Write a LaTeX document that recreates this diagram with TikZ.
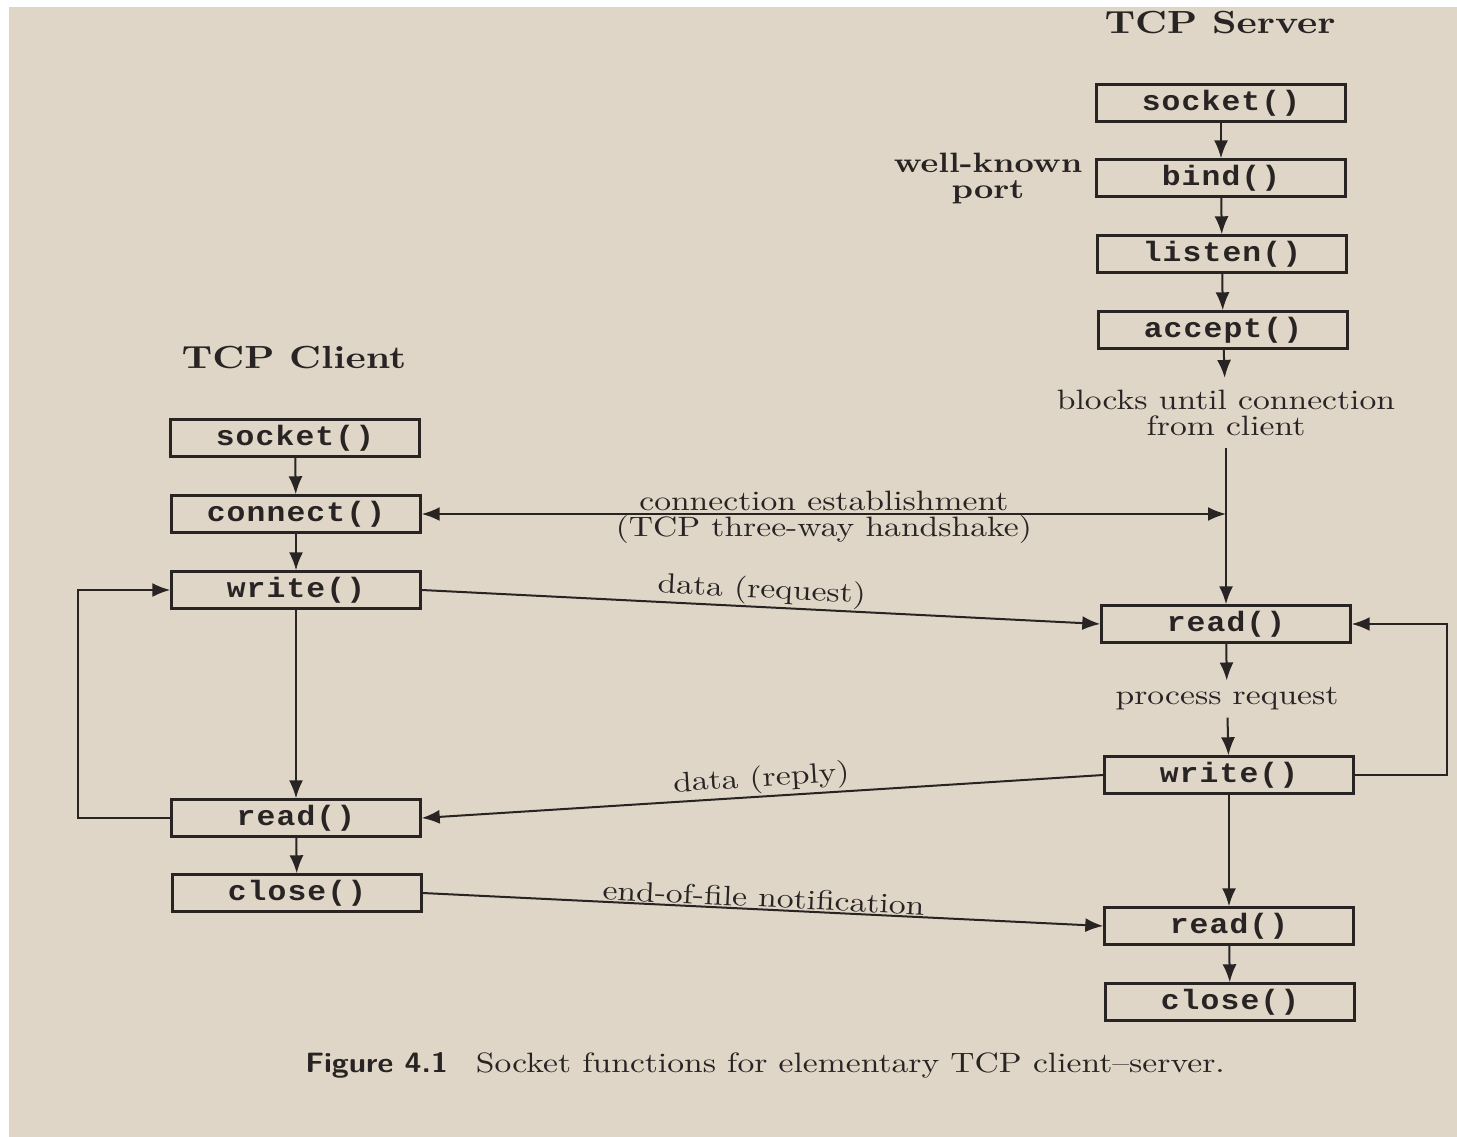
\documentclass[tikz,border=0pt]{standalone}
\usepackage{fontspec}
\usetikzlibrary{arrows.meta}
\newfontfamily\lblfont[Ligatures=TeX,FakeStretch=1.2,BoldFont=lmroman10-bold.otf]{lmroman10-regular.otf}
\newfontfamily\capfont[FakeStretch=1.1]{lmsans10-bold.otf}
\newfontfamily\callfont[FakeStretch=1.12,LetterSpace=4]{Liberation Mono}
\definecolor{paper}{RGB}{224,214,199}
\definecolor{ink}{RGB}{40,36,36}

\begin{document}
\begin{tikzpicture}[x=1pt,y=-1pt,>={Latex[length=18pt,width=14pt]},
	fn/.style={draw=ink,text=ink,line width=2.4pt,minimum width=249pt,minimum height=37pt,inner sep=0pt,
		font={\callfont\bfseries\fontsize{28}{30}\selectfont}},
	lbl/.style={text=ink,align=center,font={\lblfont\fontsize{28}{26}\selectfont}},
	ttl/.style={text=ink,font={\lblfont\bfseries\fontsize{32}{34}\selectfont}},
	flow/.style={draw=ink,line width=2pt}]

	\useasboundingbox (0,0) rectangle (1457,1137);
	\fill[white] (0,0) rectangle (1457,1137);
	\fill[paper] (9,7) rectangle (1457,1137);

	% server side
	\node[ttl] (stitle) at (1220,23) {TCP Server};
	\node[fn] (ssocket) at (1221,103) {socket()};
	\node[fn] (sbind) at (1221,178) {bind()};
	\node[fn] (slisten) at (1222,254) {listen()};
	\node[fn] (saccept) at (1223,330) {accept()};
	\node[lbl,font={\lblfont\bfseries\fontsize{28}{26}\selectfont}] (sport) at (988,178) {well-known\\port};
	\node[lbl,inner sep=12pt] (sblocks) at (1226,413) {blocks until connection\\from client};
	\node[fn] (sread) at (1226,624) {read()};
	\node[lbl,inner sep=7pt] (sprocess) at (1227,699) {process request};
	\node[fn] (swrite) at (1229,775) {write()};
	\node[fn] (seof) at (1229,926) {read()};
	\node[fn] (sclose) at (1230,1002) {close()};

	% client side
	\node[ttl] (ctitle) at (294,358) {TCP Client};
	\node[fn] (csocket) at (295,438) {socket()};
	\node[fn] (cconnect) at (296,514) {connect()};
	\node[fn] (cwrite) at (296,590) {write()};
	\node[fn] (cread) at (296,818) {read()};
	\node[fn] (cclose) at (297,893) {close()};

	\draw[->,flow] (ssocket) -- (sbind);
	\draw[->,flow] (sbind) -- (slisten);
	\draw[->,flow] (slisten) -- (saccept);
	\draw[->,flow] (saccept) -- (sblocks);
	\draw[->,flow] (sblocks.south) -- (sread);
	\draw[->,flow] (sread) -- (sprocess);
	\draw[->,flow] (sprocess) -- (swrite);
	\draw[->,flow] (swrite) -- (seof);
	\draw[->,flow] (seof) -- (sclose);
	\draw[->,flow] (swrite.east) -- ++(92,0) |- (sread.east);

	\draw[->,flow] (csocket) -- (cconnect);
	\draw[->,flow] (cconnect) -- (cwrite);
	\draw[->,flow] (cwrite) -- (cread);
	\draw[->,flow] (cread) -- (cclose);
	\draw[->,flow] (cread.west) -- ++(-92,0) |- (cwrite.west);

	% between the two
	\coordinate (shake) at (cconnect.east -| sblocks.south);
	\draw[<->,flow] (cconnect.east) -- (shake)
		node[lbl,midway,above,inner sep=2pt] {connection establishment}
		node[lbl,midway,below,inner sep=0pt] {(TCP three-way handshake)};
	\draw[->,flow] (cwrite.east) -- (sread.west)
		node[lbl,midway,above,sloped,inner sep=1pt] {data (request)};
	\draw[->,flow] (swrite.west) -- (cread.east)
		node[lbl,midway,above,sloped,inner sep=2pt] {data (reply)};
	\draw[->,flow] (cclose.east) -- (seof.west)
		node[lbl,midway,above,sloped,inner sep=1pt] {end-of-file notification};

	\node[lbl] (caption) at (765,1065) {{\capfont Figure 4.1}\quad Socket functions for elementary TCP client--server.};
\end{tikzpicture}
\end{document}
